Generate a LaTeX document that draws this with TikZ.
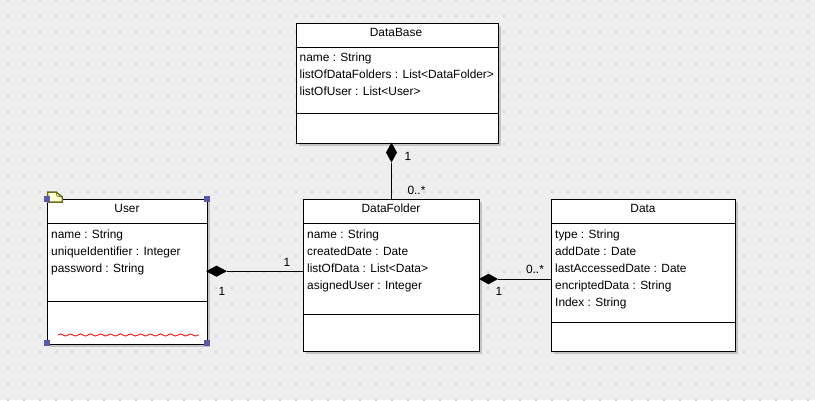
\documentclass[tikz,border=0pt]{standalone}
\usepackage{fontspec}
\setmainfont{Liberation Sans}
\usetikzlibrary{shapes.geometric,decorations.pathmorphing,shadows}
\definecolor{bgc}{HTML}{EEEEEE}
\definecolor{dotc}{HTML}{D2D2D2}
\definecolor{handle}{HTML}{5A5AAA}
\definecolor{notec}{HTML}{FFFFD0}
\definecolor{noteb}{HTML}{6E6E20}
\definecolor{shadowc}{HTML}{C4C4C4}
\tikzset{
 x=1pt,y=-1pt,
 umlbox/.style={draw=black,line width=1pt,fill=white,inner sep=0pt,outer sep=0pt,
   drop shadow={shadow xshift=2.5pt,shadow yshift=-2.5pt,fill=shadowc,opacity=1}},
 txt/.style={inner sep=0pt,anchor=base west,font=\fontsize{11.9}{12}\selectfont,text=black},
 ttl/.style={inner sep=0pt,anchor=base,font=\fontsize{11.9}{12}\selectfont,text=black},
 mult/.style={inner sep=0pt,anchor=center,font=\fontsize{11.9}{12}\selectfont,text=black},
 conn/.style={draw=black,line width=1pt},
 comp/.style={diamond,fill=black,inner sep=0pt,outer sep=0pt,aspect=#1},
 hdl/.style={fill=handle,inner sep=0pt,minimum size=6pt},
 divider/.style={draw=black,line width=1pt},
}
\begin{document}
\begin{tikzpicture}
\useasboundingbox (0,0) rectangle (815,400);
\fill[bgc] (0,0) rectangle (815,400);
\foreach \i in {0,...,50}{\foreach \j in {-1,...,25}{
  \fill[dotc] ({8+16*\i-1},{15.7+16*\j-1}) rectangle ++(2,2);
}}
% boxes
\node[umlbox,minimum width=160pt,minimum height=144.5pt] (user) at (127.5,271.75) {};
\node[umlbox,minimum width=202.5pt,minimum height=120pt] (db) at (397.25,83.5) {};
\node[umlbox,minimum width=176pt,minimum height=152pt] (folder) at (391.5,275.5) {};
\node[umlbox,minimum width=184pt,minimum height=152pt] (data) at (643.5,275.5) {};
% dividers
\foreach \n/\a/\b in {user/223.3/301.3,db/47.3/113.3,folder/223.3/314.8,data/223.3/322.3}{
  \draw[divider] (\n.west |- 0,\a) -- (\n.east |- 0,\a);
  \draw[divider] (\n.west |- 0,\b) -- (\n.east |- 0,\b);
}
% titles
\node[ttl] (t1) at (127,212.7) {User};
\node[ttl] (t2) at (396,36.7) {DataBase};
\node[ttl] (t3) at (391,212.7) {DataFolder};
\node[ttl] (t4) at (643,212.7) {Data};
% attributes
\node[txt] (u1) at (51,238) {name : String};
\node[txt] (u2) at (51,255) {uniqueIdentifier : Integer};
\node[txt] (u3) at (51,272) {password : String};
\node[txt] (b1) at (299.5,61.7) {name : String};
\node[txt] (b2) at (299.5,78.7) {listOfDataFolders : List<DataFolder>};
\node[txt] (b3) at (299.5,95.7) {listOfUser : List<User>};
\node[txt] (f1) at (307,238) {name : String};
\node[txt] (f2) at (307,255) {createdDate : Date};
\node[txt] (f3) at (307,272) {listOfData : List<Data>};
\node[txt] (f4) at (307,289) {asignedUser : Integer};
\node[txt] (d1) at (555,238) {type : String};
\node[txt] (d2) at (555,255) {addDate : Date};
\node[txt] (d3) at (555,272) {lastAccessedDate : Date};
\node[txt] (d4) at (555,289) {encriptedData : String};
\node[txt] (d5) at (555,306) {Index : String};
% composition diamonds
\node[comp=0.5,minimum width=11pt,minimum height=20pt] (dm1) at (391.5,152.5) {};
\node[comp=2,minimum width=21pt,minimum height=11pt] (dm2) at (216.5,271.2) {};
\node[comp=2,minimum width=19pt,minimum height=10.5pt] (dm3) at (488.5,279) {};
% connectors
\draw[conn] (dm1.south) -- (folder.north);
\draw[conn] (dm2.east) -- (dm2 -| folder.west);
\draw[conn] (dm3.east) -- (dm3 -| data.west);
% multiplicities
\node[mult] (m1) at (408,156.7) {1};
\node[mult] (m2) at (416.5,190) {0..*};
\node[mult] (m3) at (222,291) {1};
\node[mult] (m4) at (287,262) {1};
\node[mult] (m5) at (499,291.7) {1};
\node[mult] (m6) at (535,269) {0..*};
% note icon
\draw[fill=notec,line width=1.5pt,draw=noteb,line join=miter] (47.5,192) -- (56,192) -- (62.3,197) -- (62.3,202) -- (47.5,202) -- cycle;
\draw[line width=.7pt,draw=noteb] (56,192) -- (57,196) -- (62.3,197);
% squiggle
\draw[red,line width=.8pt,decorate,decoration={zigzag,segment length=10pt,amplitude=1.1pt}] (58,335) -- (199,335);
% handles
\node[hdl] (h1) at (47,198.7) {};
\node[hdl] (h2) at (207,198.7) {};
\node[hdl] (h3) at (47,343) {};
\node[hdl] (h4) at (207,343) {};
\end{tikzpicture}
\end{document}
